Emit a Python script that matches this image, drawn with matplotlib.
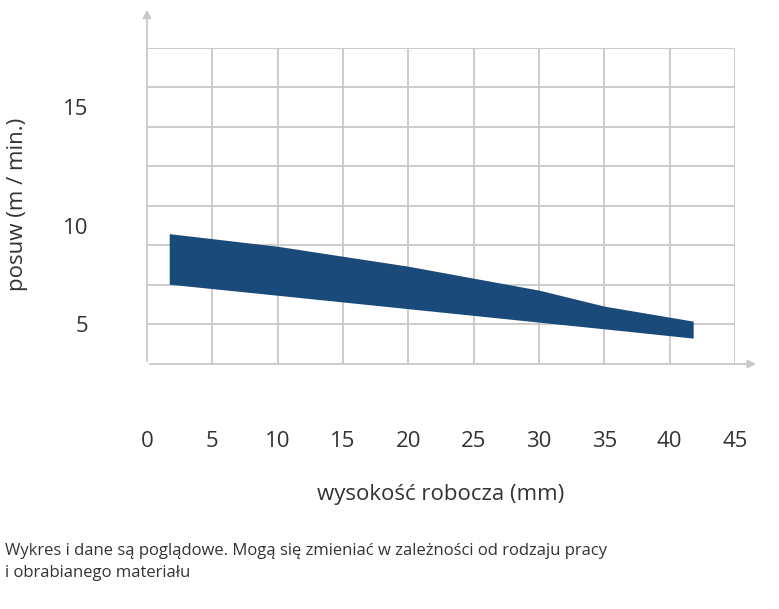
import matplotlib
matplotlib.use("Agg")
import matplotlib.pyplot as plt

x_pts = [1.7, 10, 20, 30, 35, 41.8]
upper = [9.6, 8.96, 7.95, 6.74, 5.93, 5.17]
lower = [7.04, 6.48, 5.80, 5.12, 4.78, 4.31]
x_ticks = [0, 5, 10, 15, 20, 25, 30, 35, 40, 45]
y_tick_pos = [5, 10, 16]
y_tick_labels = ["5", "10", "15"]

plt.rcParams['font.family'] = ['Open Sans', 'DejaVu Sans']
fig = plt.figure(figsize=(7.79, 6.09), dpi=100)
ax = fig.add_axes([0.1887, 0.4023, 0.7548, 0.5189])
ax.set_xlim(0, 45)
ax.set_ylim(3, 19)
ax.fill_between(x_pts, lower, upper, color='#1a4a7a', zorder=3, linewidth=0)
for v in range(5, 46, 5):
    ax.axvline(v, color='#c8c8c8', lw=1.3, zorder=1)
for h in range(5, 20, 2):
    ax.axhline(h, color='#c8c8c8', lw=1.3, zorder=1)
for s in ax.spines.values():
    s.set_visible(False)
ax.set_xticks(x_ticks)
ax.set_xticklabels([str(t) for t in x_ticks], fontsize=16, color='#333333')
ax.set_yticks(y_tick_pos)
ax.set_yticklabels(y_tick_labels, fontsize=16, color='#333333')
ax.tick_params(length=0, pad=48, axis='x')
ax.tick_params(length=0, pad=42, axis='y')
# axis arrows
ax.annotate('', xy=(1.0405, 0), xytext=(0, 0), xycoords='axes fraction',
            arrowprops=dict(arrowstyle='-|>', color='#c8c8c8', lw=1.3, mutation_scale=12))
ax.annotate('', xy=(0, 1.13), xytext=(0, 0), xycoords='axes fraction',
            arrowprops=dict(arrowstyle='-|>', color='#c8c8c8', lw=1.3, mutation_scale=12))
fig.text(0.565, 0.188, 'wysokość robocza (mm)', fontsize=16, color='#333333', ha='center', va='center')
fig.text(0.022, 0.665, 'posuw (m / min.)', fontsize=16, color='#333333', ha='center', va='center', rotation=90)
fig.text(0.006, 0.077, 'Wykres i dane są poglądowe. Mogą się zmieniać w zależności od rodzaju pracy\ni obrabianego materiału',
         fontsize=12, color='#333333', ha='left', va='center', linespacing=1.5)
fig.savefig('out.png', dpi=100)
